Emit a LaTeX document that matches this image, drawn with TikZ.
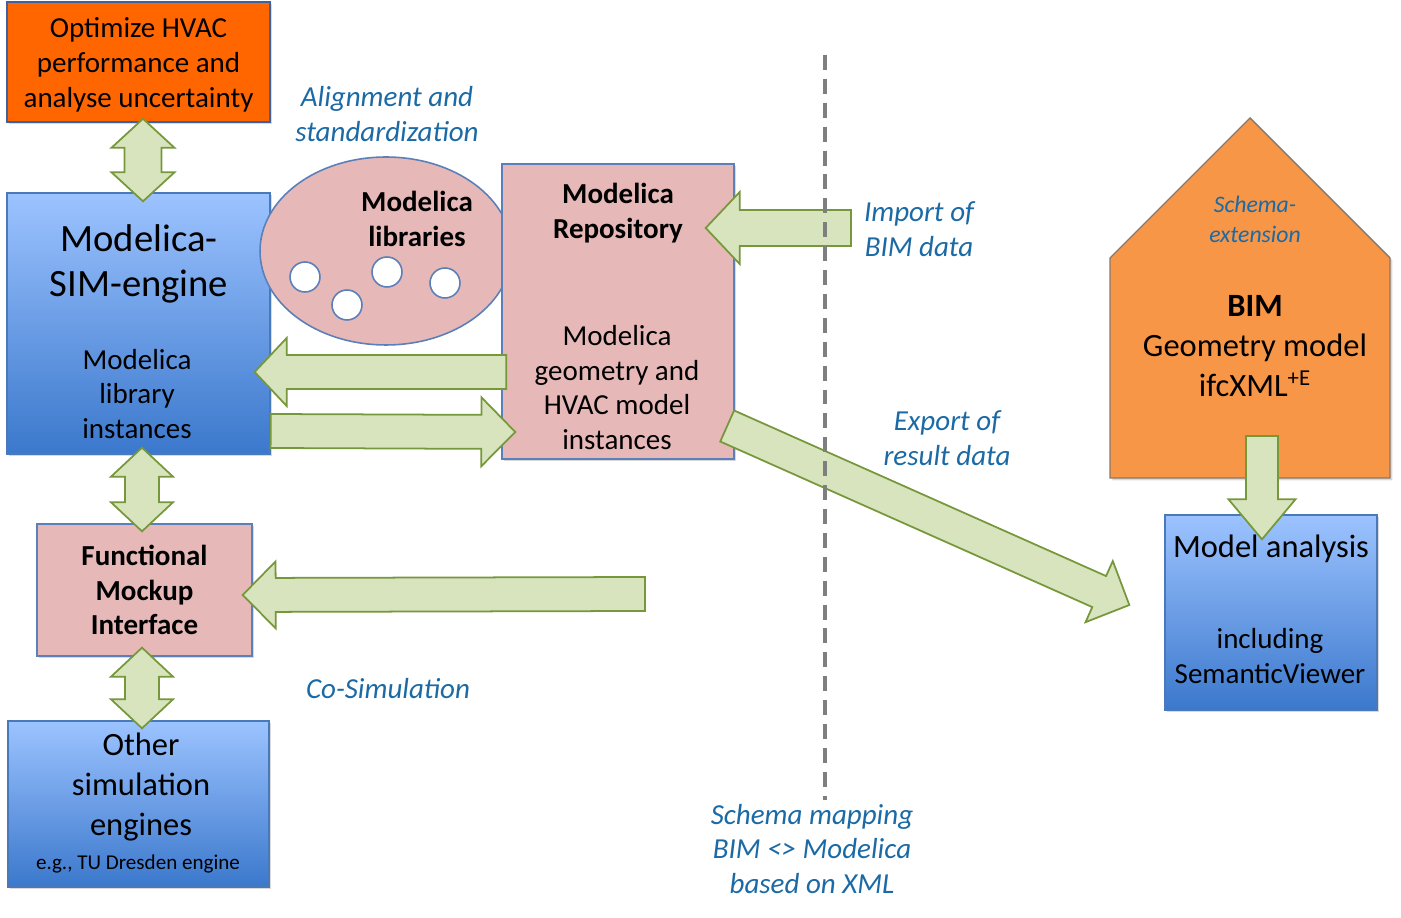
\documentclass[tikz,border=0pt]{standalone}
\usepackage{fontspec}
\setmainfont{Carlito}
\usepackage{tikz}
\usetikzlibrary{calc,shadows,shapes.geometric}

\definecolor{optorange}{HTML}{FF6600}
\definecolor{optedge}{HTML}{41609C}
\definecolor{simtop}{HTML}{9CC3FF}
\definecolor{simbottom}{HTML}{3B78CC}
\definecolor{simedge}{HTML}{4A79BA}
\definecolor{repopink}{HTML}{E6B9B8}
\definecolor{repoedge}{HTML}{5B7FB8}
\definecolor{arrowfill}{HTML}{D7E4BD}
\definecolor{arrowedge}{HTML}{77973B}
\definecolor{bimorange}{HTML}{F79646}
\definecolor{bimedge}{HTML}{8A7767}
\definecolor{notecolor}{HTML}{1B6AA5}
\definecolor{dividergray}{HTML}{7F7F7F}

\newcommand{\txtmid}{\fontsize{16.5}{19.8}\selectfont}
\newcommand{\txtbig}{\fontsize{22}{25.5}\selectfont}
\newcommand{\txtother}{\fontsize{18.5}{22.7}\selectfont}
\newcommand{\txtsmall}{\fontsize{12}{14}\selectfont}
\newcommand{\txtschema}{\fontsize{13.5}{17}\selectfont}

% fat arrow: start, tip, shaft half width, head half width, head length
\newcommand{\fatarrow}[5]{%
  \path (#1) coordinate (fa-s) (#2) coordinate (fa-e);
  \path ($(fa-e)!#5!(fa-s)$) coordinate (fa-h);
  \draw[fat] ($(fa-s)!#3!90:(fa-e)$) -- ($(fa-h)!#3!-90:(fa-s)$) -- ($(fa-h)!#4!-90:(fa-s)$)
    -- (fa-e) -- ($(fa-h)!#4!90:(fa-s)$) -- ($(fa-h)!#3!90:(fa-s)$) -- ($(fa-s)!#3!-90:(fa-e)$) -- cycle;
}
% fat double arrow: tip, tip, shaft half width, head half width, head length
\newcommand{\fatdouble}[5]{%
  \path (#1) coordinate (fd-a) (#2) coordinate (fd-b);
  \path ($(fd-a)!#5!(fd-b)$) coordinate (fd-ha) ($(fd-b)!#5!(fd-a)$) coordinate (fd-hb);
  \draw[fat] (fd-a) -- ($(fd-ha)!#4!90:(fd-b)$) -- ($(fd-ha)!#3!90:(fd-b)$) -- ($(fd-hb)!#3!-90:(fd-a)$)
    -- ($(fd-hb)!#4!-90:(fd-a)$) -- (fd-b) -- ($(fd-hb)!#4!90:(fd-a)$) -- ($(fd-hb)!#3!90:(fd-a)$)
    -- ($(fd-ha)!#3!-90:(fd-b)$) -- ($(fd-ha)!#4!-90:(fd-b)$) -- cycle;
}

\begin{document}
\begin{tikzpicture}[x=0.02cm, y=-0.02cm,
  shade/.style={drop shadow={opacity=0.3, shadow xshift=1.3pt, shadow yshift=-1.3pt}},
  optbox/.style={shade, draw=optedge, fill=optorange, line width=0.9pt},
  simbox/.style={shade, draw=simedge, top color=simtop, bottom color=simbottom, line width=0.8pt},
  pinkbox/.style={shade, draw=repoedge, fill=repopink, line width=0.8pt},
  libell/.style={ellipse, draw=repoedge, fill=repopink, line width=0.9pt},
  dot/.style={circle, draw=repoedge, fill=white, line width=0.9pt, minimum size=0.6cm, inner sep=0pt},
  fat/.style={draw=arrowedge, fill=arrowfill, line width=1pt, line join=miter},
  note/.style={text=notecolor, font=\txtmid\itshape, align=center},
  txt/.style={font=\txtmid, align=center},
  divider/.style={draw=dividergray, line width=2.3pt, dash pattern=on 8.5pt off 5.1pt}
  ]
  \useasboundingbox (0,0) rectangle (1401,918);

  % boxes
  \node[optbox, minimum width=5.26cm, minimum height=2.4cm] (opt) at (138.5,62) {};
  \node[txt] (opt-text) at (138.5,65) {Optimize HVAC\\performance and\\analyse uncertainty};
  \node[simbox, minimum width=5.26cm, minimum height=5.22cm] (sim) at (138.5,323.5) {};
  \node[font=\txtbig, align=center] (sim-title) at (139,264) {Modelica-\\SIM-engine};
  \node[txt] (sim-inst) at (137,394) {Modelica\\library\\instances};

  \node[libell, minimum width=5.04cm, minimum height=3.76cm] (lib) at (386,251) {};
  \node[txt, font=\txtmid\bfseries] (lib-title) at (417,219) {Modelica\\libraries};
  \node[dot] (lib-a) at (305,277) {};
  \node[dot] (lib-b) at (347,305) {};
  \node[dot] (lib-c) at (387,272) {};
  \node[dot] (lib-d) at (445,283) {};

  \node[pinkbox, minimum width=4.64cm, minimum height=5.9cm] (repo) at (618,311.5) {};
  \node[txt, font=\txtmid\bfseries] (repo-title) at (618,213) {Modelica\\Repository};
  \node[txt] (repo-inst) at (617,387.5) {Modelica\\geometry and\\HVAC model\\instances};

  \node[pinkbox, minimum width=4.3cm, minimum height=2.64cm, align=center,
    font=\txtmid\bfseries] (fmi) at (144.5,590) {Functional\\Mockup\\Interface};

  \node[simbox, minimum width=5.22cm, minimum height=3.32cm] (other) at (138.5,804) {};
  \node[align=center, font=\txtother] (other-title) at (141,787) {Other\\simulation\\engines};
  \node[font=\txtsmall] (other-note) at (138,864) {e.g., TU Dresden engine};

  \draw[shade, draw=bimedge, fill=bimorange, line width=0.8pt]
    (1110,478) -- (1110,258) -- (1250,118) -- (1390,258) -- (1390,478) -- cycle;
  \coordinate (house) at (1250,298);
  \node[note, font=\txtschema\itshape] (schema) at (1255,219) {Schema-\\extension};
  \node[align=center, font=\txtother] (bim) at (1255,346) {\textbf{BIM}\\Geometry model\\ifcXML\textsuperscript{+E}};

  \node[simbox, minimum width=4.24cm, minimum height=3.9cm] (ana) at (1271,612.5) {};
  \node[font=\fontsize{18.5}{22}\selectfont] (ana-title) at (1271,549) {Model analysis};
  \node[txt] (ana-view) at (1270,656) {including\\SemanticViewer};

  % labels
  \node[note] (align) at (387,114) {Alignment and\\standardization};
  \node[note] (import) at (919,229) {Import of\\BIM data};
  \node[note] (export) at (947,438) {Export of\\result data};
  \node[note] (cosim-label) at (388,689) {Co-Simulation};
  \node[note] (mapping) at (812,849) {Schema mapping\\BIM <> Modelica\\based on XML};

  \coordinate (imp) at (851,228);
  \coordinate (cosim) at (645,594);

  % fat arrows
  \fatdouble{[shift={(4.5,-4)}]opt.south}{[shift={(4.5,9)}]sim.north}{0.37cm}{0.63cm}{0.58cm}
  \fatdouble{[shift={(3.5,-7)}]sim.south}{[shift={(-2.5,8)}]fmi.north}{0.34cm}{0.62cm}{0.58cm}
  \fatdouble{[shift={(-2.5,-9)}]fmi.south}{[shift={(3.5,8)}]other.north}{0.34cm}{0.62cm}{0.58cm}
  \fatarrow{[shift={(5,60.5)}]repo.west}{[shift={(-16,48.5)}]sim.east}{0.34cm}{0.68cm}{0.64cm}
  \fatarrow{[shift={(0,107.5)}]sim.east}{[shift={(14,120.5)}]repo.west}{0.34cm}{0.69cm}{0.68cm}
  \fatarrow{imp}{[shift={(-29,-83.5)}]repo.east}{0.36cm}{0.72cm}{0.68cm}
  \fatarrow{[shift={(-7.5,114.5)}]repo.east}{[shift={(-35,-7.5)}]ana.west}{0.34cm}{0.67cm}{0.66cm}
  \fatarrow{cosim}{[shift={(-10,5)}]fmi.east}{0.34cm}{0.67cm}{0.66cm}
  \fatarrow{[shift={(12,138)}]house}{[shift={(-9,25)}]ana.north}{0.32cm}{0.67cm}{0.8cm}

  % divider
  \draw[divider] (825,55) -- (825,800);
\end{tikzpicture}
\end{document}
